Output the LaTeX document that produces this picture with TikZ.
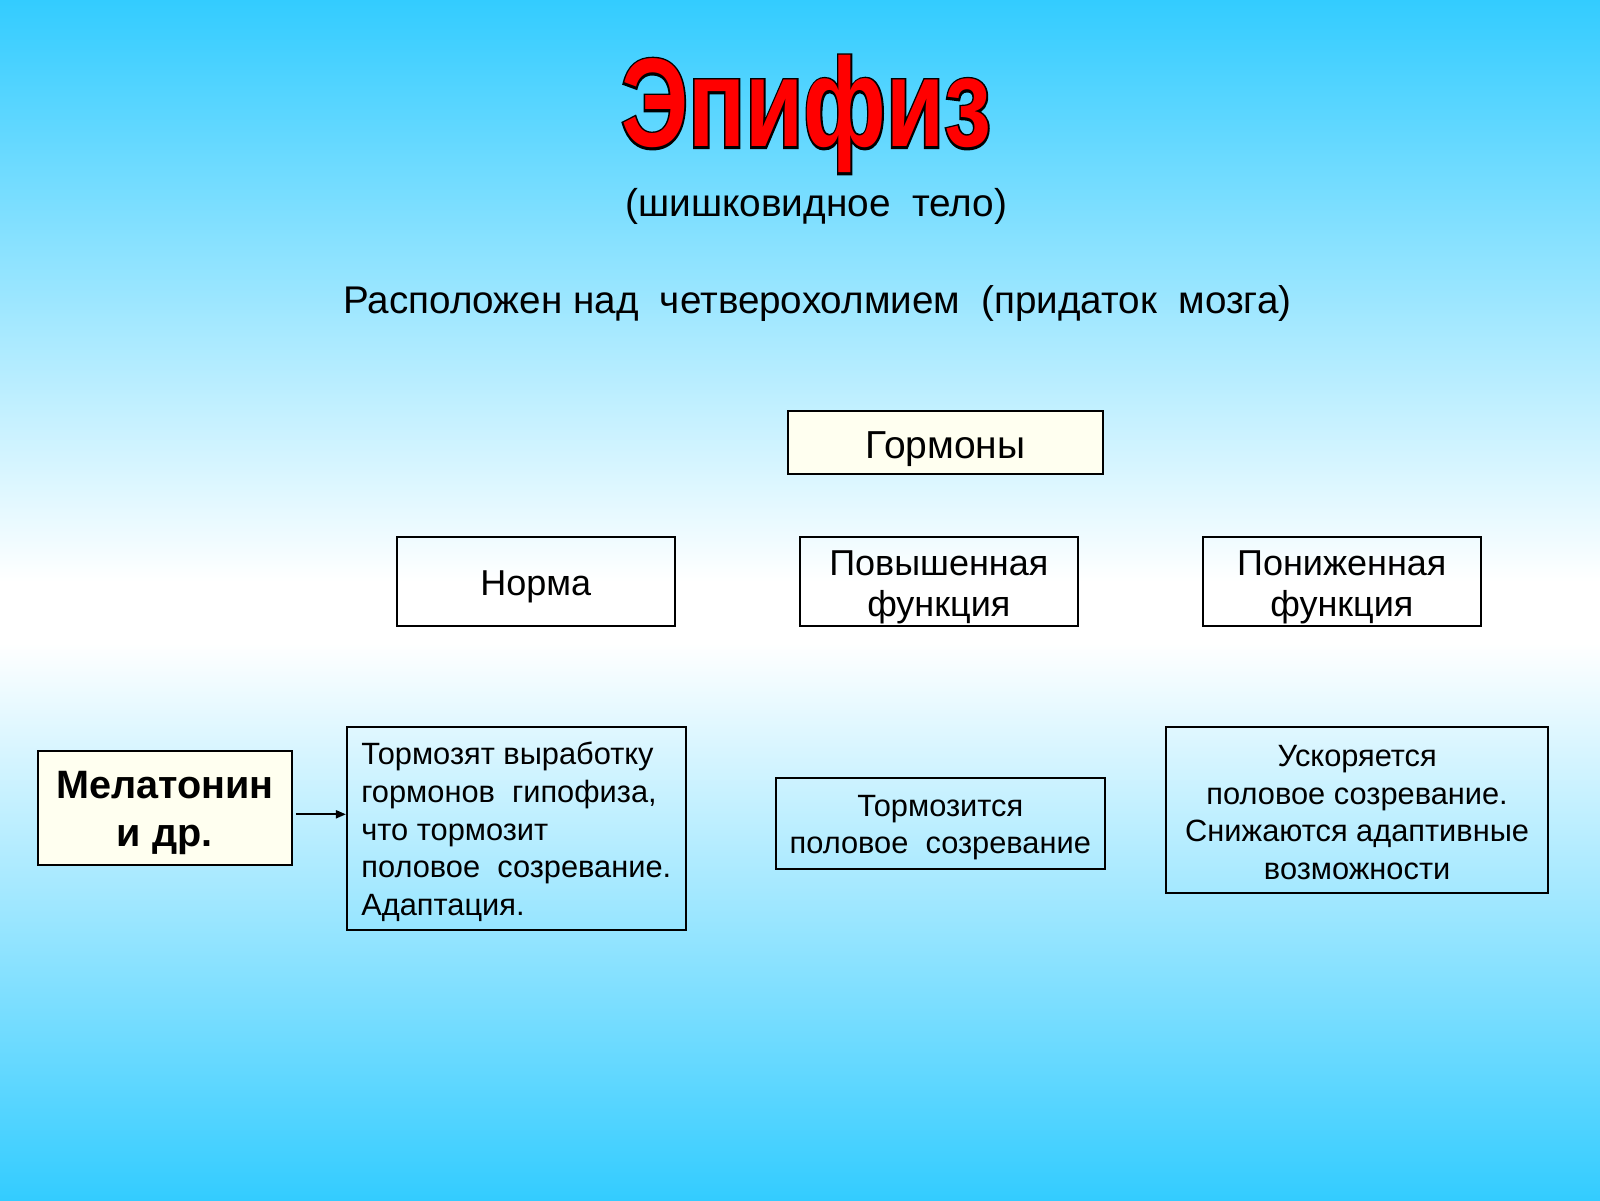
\documentclass[tikz,border=0pt]{standalone}
\usepackage{fontspec}
\setmainfont{Liberation Sans}
\newfontfamily\titlefill{Liberation Sans Bold}
\newfontfamily\titlestroke[FakeBold=3.6]{Liberation Sans Bold}
\usetikzlibrary{arrows.meta}
\definecolor{sky}{RGB}{51,204,255}
\definecolor{ivory}{RGB}{255,255,240}
\definecolor{titlered}{RGB}{255,0,0}
\tikzset{
  box/.style={draw=black, line width=1pt, inner sep=0pt, align=center},
  midtxt/.style={font=\fontsize{18}{20.4}\selectfont},
  smalltxt/.style={font=\fontsize{15.4}{18.8}\selectfont},
  titletxt/.style={anchor=base, inner sep=0pt, xscale=0.75},
}
\begin{document}
\begin{tikzpicture}[x=0.5102pt,y=-0.5102pt]
\useasboundingbox (0,0) rectangle (1568,1176);
% background
\shade[top color=sky, bottom color=white] (0,0) rectangle (1568,570);
\fill[white] (0,569) rectangle (1568,631);
\shade[top color=white, bottom color=sky] (0,630) rectangle (1568,1176);
% title (black stroked copy under red copy)
\node[titletxt, font=\titlestroke\fontsize{63}{70}\selectfont, text=black] (titleline) at (790,144) {Эпифиз};
\node[titletxt, font=\titlefill\fontsize{63}{70}\selectfont, text=titlered] (title) at (790,144) {Эпифиз};
\node[anchor=base, inner sep=0pt, font=\fontsize{19.4}{22}\selectfont] (sub) at (800,212) {(шишковидное\ \ тело)};
\node[anchor=base, inner sep=0pt, font=\fontsize{19.3}{22}\selectfont] (loc) at (801,307) {Расположен над\ \ четверохолмием\ \ (придаток\ \ мозга)};
% boxes
\node[box, fill=ivory, font=\fontsize{19.5}{22}\selectfont, minimum width=157.7pt, minimum height=31.6pt] (horm) at (926.5,434) {\rule{0pt}{19.6pt}Гормоны};
\node[box, midtxt, minimum width=138.8pt, minimum height=44.4pt] (norm) at (525,569.5) {\rule{0pt}{18.5pt}Норма};
\node[box, midtxt, minimum width=138.8pt, minimum height=44.4pt] (hyper) at (920,569.5) {\rule{0pt}{18.5pt}Повышенная\\функция};
\node[box, midtxt, minimum width=138.8pt, minimum height=44.4pt] (hypo) at (1315,569.5) {\rule{0pt}{18.5pt}Пониженная\\функция};
\node[box, fill=ivory, line width=1.2pt, font=\bfseries\fontsize{19.8}{24}\selectfont, minimum width=127pt, minimum height=57.1pt] (mel) at (161.5,792) {\rule{0pt}{18.8pt}Мелатонин\\и др.};
\node[box, smalltxt, align=left, minimum width=169.4pt, minimum height=101.5pt] (norm2) at (506,811.5) {\rule{0pt}{15pt}Тормозят выработку\\гормонов\ \ гипофиза,\\что тормозит\\половое\ \ созревание.\\Адаптация.};
\node[box, smalltxt, minimum width=164.8pt, minimum height=45.9pt] (hyper2) at (921.5,807) {\rule{0pt}{14.6pt}Тормозится\\половое\ \ созревание};
\node[box, smalltxt, minimum width=190.8pt, minimum height=83.2pt] (hypo2) at (1330,793.5) {\rule{0pt}{13.6pt}Ускоряется\\половое созревание.\\Снижаются адаптивные\\возможности};
% arrow
\coordinate (astart) at (290,798);
\draw[line width=1pt, -{Triangle[length=5pt,width=4pt]}] (astart) -- (norm2.west |- astart);
\end{tikzpicture}
\end{document}
